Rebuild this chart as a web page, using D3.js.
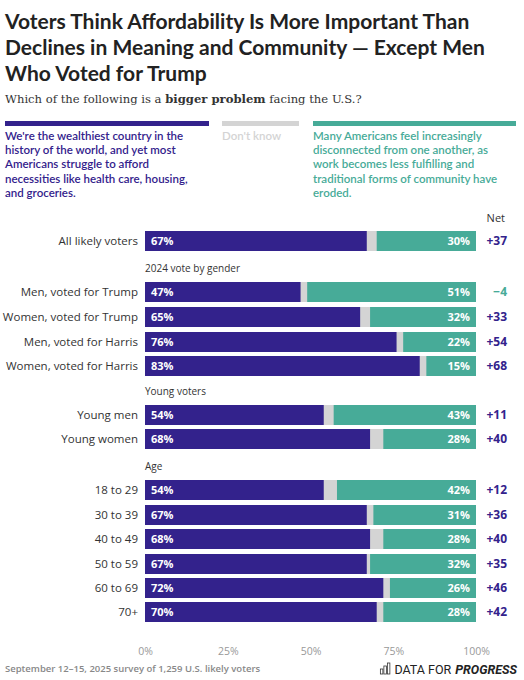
<!DOCTYPE html><html><head><meta charset="utf-8"><script src="https://cdn.jsdelivr.net/npm/d3@7"></script>
<style>body{margin:0;background:#fff}svg{font-family:"Open Sans",sans-serif}</style></head><body>
<svg id="c" width="524" height="680"></svg>
<script>
const categories=["All likely voters","Men, voted for Trump","Women, voted for Trump","Men, voted for Harris","Women, voted for Harris","Young men","Young women","18 to 29","30 to 39","40 to 49","50 to 59","60 to 69","70+"];
const groups=[null,"2024 vote by gender",null,null,null,"Young voters",null,"Age",null,null,null,null,null];
const affordability=[67,47,65,76,83,54,68,54,67,68,67,72,70];
const community=[30,51,32,22,15,43,28,42,31,28,32,26,28];
const net=["+37","−4","+33","+54","+68","+11","+40","+12","+36","+40","+35","+46","+42"];
const ticks=[0,25,50,75,100];
const rowY=[241,292,317,342,366,415,439,490,515,539,564,588,612];
const P="#33228c",T="#47ab98",G="#d4d4d4";
const svg=d3.select("#c");
const x=d3.scaleLinear().domain([0,100]).range([145,476]);
const title=["Voters Think Affordability Is More Important Than","Declines in Meaning and Community — Except Men","Who Voted for Trump"];
title.forEach((t,i)=>{const el=svg.append("text").attr("x",5).attr("y",29+i*26).attr("font-size",21).attr("font-weight",700).attr("fill","#222").style("font-family","Lato, sans-serif").text(t);
 const w=el.node().getComputedTextLength(); if(w>508) el.attr("textLength",508).attr("lengthAdjust","spacingAndGlyphs");});
const st=svg.append("text").attr("x",5).attr("y",103).attr("font-size",11.6).attr("fill","#333").style("font-family","'DejaVu Serif',serif");
st.append("tspan").text("Which of the following is a ");st.append("tspan").attr("font-weight",700).text("bigger problem");st.append("tspan").text(" facing the U.S.?");
svg.append("rect").attr("x",5).attr("y",121).attr("width",204).attr("height",5).attr("fill",P);
svg.append("rect").attr("x",222).attr("y",121).attr("width",77).attr("height",5).attr("fill",G);
svg.append("rect").attr("x",313).attr("y",121).attr("width",203).attr("height",5).attr("fill",T);
const lt=(xx,lines,c)=>lines.forEach((l,i)=>svg.append("text").attr("x",xx).attr("y",140+i*14.2).attr("font-size",11.5).attr("font-weight",600).attr("fill",c).style("font-family","Lato, sans-serif").text(l));
lt(5,["We're the wealthiest country in the","history of the world, and yet most","Americans struggle to afford","necessities like health care, housing,","and groceries."],P);
lt(222,["Don't know"],"#d4d4d4");
lt(313,["Many Americans feel increasingly","disconnected from one another, as","work becomes less fulfilling and","traditional forms of community have","eroded."],T);
svg.append("text").attr("x",505).attr("y",222).attr("text-anchor","end").attr("font-size",11).attr("fill","#333").text("Net");
const h=20;
categories.forEach((c,i)=>{
 const y=rowY[i];
 if(groups[i])svg.append("text").attr("x",145).attr("y",y-20).attr("font-size",10).attr("fill","#333").text(groups[i]);
 svg.append("text").attr("x",138).attr("y",y+4).attr("text-anchor","end").attr("font-size",11.5).attr("fill","#333").text(c);
 svg.append("rect").attr("x",x(0)).attr("y",y-h/2).attr("width",x(100)-x(0)).attr("height",h).attr("fill",G);
 svg.append("rect").attr("x",x(0)).attr("y",y-h/2).attr("width",x(affordability[i])-x(0)).attr("height",h).attr("fill",P);
 svg.append("rect").attr("x",x(100-community[i])).attr("y",y-h/2).attr("width",x(100)-x(100-community[i])).attr("height",h).attr("fill",T);
 svg.append("text").attr("x",x(0)+6).attr("y",y+4).attr("font-size",11).attr("font-weight",700).attr("fill","#fff").text(affordability[i]+"%");
 svg.append("text").attr("x",x(100)-6).attr("y",y+4).attr("text-anchor","end").attr("font-size",11).attr("font-weight",700).attr("fill","#fff").text(community[i]+"%");
 svg.append("text").attr("x",507).attr("y",y+4).attr("text-anchor","end").attr("font-size",12).attr("font-weight",700).attr("fill",net[i].startsWith("+")?P:T).text(net[i]);
});
const ax=svg.append("g").attr("transform","translate(0,645)").call(d3.axisBottom(x).tickValues(ticks).tickFormat(d=>d+"%").tickSize(0));
ax.select(".domain").remove();ax.selectAll("text").attr("font-size",10.5).attr("fill","#999").style("font-family","'Open Sans',sans-serif");
svg.append("text").attr("x",5).attr("y",672).attr("font-size",9.5).attr("fill","#888").attr("font-weight",600).text("September 12–15, 2025 survey of 1,259 U.S. likely voters");
const f="Roboto,sans-serif";
const pr=svg.append("text").attr("x",517).attr("y",674).attr("text-anchor","end").attr("font-size",12.5).attr("font-weight",700).attr("font-style","italic").attr("fill","#222").style("font-family",f).text("PROGRESS");
const pw=pr.node().getComputedTextLength();
const df=svg.append("text").attr("x",517-pw-4).attr("y",674).attr("text-anchor","end").attr("font-size",12.5).attr("fill","#222").style("font-family",f).text("DATA FOR");
const dw=df.node().getComputedTextLength();
const lg=svg.append("g").attr("transform",`translate(${517-pw-4-dw-14},664)`);
[[0,5],[3.5,8],[7,11]].forEach(([dx,hh])=>lg.append("rect").attr("x",dx).attr("y",10-hh).attr("width",2.5).attr("height",hh).attr("fill","none").attr("stroke","#333").attr("stroke-width",0.8));
</script></body></html>
